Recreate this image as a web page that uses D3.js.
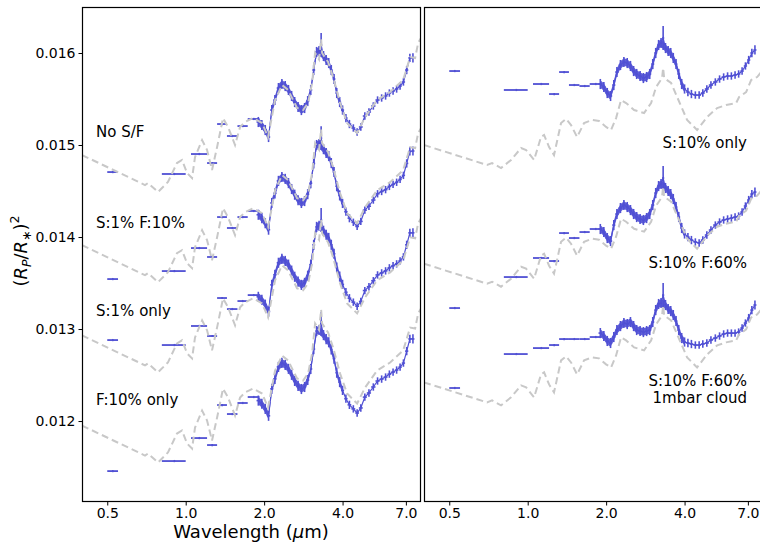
<!DOCTYPE html>
<html>
<head>
<meta charset="utf-8">
<script src="https://cdn.jsdelivr.net/npm/d3@7"></script>
<style>
  body { margin: 0; background: #fff; }
  text { font-family: "DejaVu Sans", sans-serif; fill: #000; }
</style>
</head>
<body>
<svg id="chart" width="760" height="547"></svg>
<script>
// all depths in ppm, i.e. (Rp/R*)^2 * 1e6, before the display offset

// model spectra (grey dashed), left panel and right panel
const leftModelWave = [0.40,0.698,0.717,0.783,0.855,0.926,0.968,1.012,1.058,1.086,1.156,1.208,1.262,1.320,1.391,1.454,1.547,1.617,1.690,1.814,1.964,2.071,2.203,2.344,2.472,2.676,2.822,2.950,3.056,3.138,3.250,3.310,3.338,3.520,3.679,3.914,4.164,4.549,4.882,5.429,6.090,6.831,7.269,7.596,7.800,8.0];
const leftModelDepth = [14891,14565,14587,14489,14598,14804,14837,14696,14641,14869,15054,14946,14728,14978,15293,15196,15000,15196,15250,15293,15239,15087,15489,15652,15598,15402,15380,15456,15674,16000,15930,16150,16000,15902,15739,15456,15239,15130,15304,15489,15576,15706,15956,15946,16109,16163];

const rightModelWave = [0.40,0.698,0.730,0.790,0.863,0.943,0.986,1.058,1.125,1.156,1.208,1.262,1.343,1.404,1.467,1.547,1.646,1.767,1.879,1.999,2.089,2.184,2.282,2.386,2.561,2.797,2.976,3.11,3.28,3.309,3.34,3.551,3.745,4.091,4.469,4.882,5.333,5.775,6.309,6.479,6.892,7.204,7.596,8.0];
const rightModelDepth = [15000,14783,14804,14750,14837,14967,14946,14837,15087,15109,14978,14891,15239,15283,15217,15087,15239,15272,15261,15196,15163,15293,15489,15456,15380,15348,15456,15630,15728,15837,15728,15674,15522,15272,15163,15304,15402,15435,15456,15522,15576,15706,15739,15815];

// photometric bins (wide horizontal bars)
const photWave = [0.525,0.905,1.128,1.264,1.38,1.51,1.655,1.825];
const photHalf = [0.025,0.095,0.08,0.056,0.06,0.07,0.075,0.095];
const photErr = 12;

const photNoSF    = [14706,14685,14902,14804,15228,15098,15206,15283];
const photS1F10   = [14523,14610,14860,14763,15197,15078,15197,15263];
const photS1only  = [14840,14786,14993,14884,15297,15177,15264,15329];
const photF10only = [14396,14505,14755,14679,15114,15016,15136,15201];
const photS10only = [15804,15598,15663,15554,15793,15652,15641,15663];
const photS10F60  = [14518,14855,15062,15029,15333,15279,15344,15377];
const photCloud   = [14939,15308,15373,15406,15471,15471,15471,15493];

// spectroscopic points
const specWave = [1.90,1.96,2.02,2.08,2.14,2.20,2.27,2.34,2.41,2.48,2.55,2.62,2.70,2.78,2.86,2.94,3.02,3.10,3.18,3.25,3.31,3.38,3.46,3.54,3.62,3.71,3.80,3.90,4.00,4.12,4.25,4.40,4.55,4.70,4.87,5.05,5.25,5.45,5.65,5.85,6.05,6.25,6.45,6.65,6.85,7.05,7.25,7.45];
const specErr = [55,55,55,55,55,55,55,55,55,55,55,55,55,55,55,55,55,55,55,55,130,55,55,55,55,55,55,55,50,45,45,40,40,40,40,40,40,40,40,40,40,40,40,40,40,45,45,50];

const specNoSF = [15250,15217,15163,15087,15380,15489,15619,15663,15641,15598,15533,15467,15413,15380,15402,15478,15598,15815,16011,16022,16087,15967,15924,15891,15815,15717,15565,15467,15380,15293,15228,15185,15141,15196,15315,15359,15424,15489,15511,15533,15565,15587,15609,15641,15685,15815,15946,15946];
const specS1F10 = [15222,15185,15130,15060,15350,15455,15590,15632,15612,15566,15502,15440,15380,15350,15371,15446,15565,15780,15980,15990,16055,15935,15893,15860,15784,15686,15532,15432,15345,15255,15185,15140,15095,15150,15272,15315,15382,15450,15475,15495,15530,15552,15575,15606,15650,15780,15910,15915];
const specS1only = [15310,15278,15225,15150,15440,15550,15680,15722,15700,15660,15595,15528,15475,15440,15462,15540,15660,15875,16070,16082,16145,16028,15985,15950,15876,15778,15628,15530,15445,15360,15295,15252,15208,15260,15378,15420,15485,15548,15570,15592,15625,15648,15668,15700,15744,15875,16005,16006];
const specF10only = [15162,15128,15072,14997,15290,15398,15528,15572,15550,15507,15442,15376,15322,15288,15310,15386,15506,15722,15918,15930,15995,15874,15830,15796,15718,15618,15465,15363,15273,15183,15116,15072,15027,15082,15200,15245,15310,15375,15396,15418,15450,15472,15494,15526,15570,15700,15832,15832];
const specS10only = [15663,15630,15565,15533,15652,15793,15869,15902,15891,15859,15804,15772,15750,15728,15739,15772,15880,16000,16087,16109,16163,16054,16022,16000,15946,15880,15772,15663,15609,15576,15554,15543,15543,15565,15609,15652,15685,15717,15739,15750,15750,15761,15772,15804,15859,15924,16000,16033];
const specS10F60 = [15377,15344,15279,15246,15420,15540,15605,15638,15616,15583,15540,15507,15486,15475,15496,15540,15638,15768,15844,15866,15931,15823,15790,15757,15703,15616,15507,15388,15323,15290,15257,15236,15225,15257,15312,15366,15420,15453,15475,15486,15496,15507,15518,15562,15627,15692,15757,15779];
const specCloud = [15536,15504,15450,15428,15493,15569,15612,15645,15634,15656,15612,15569,15558,15547,15558,15569,15656,15786,15852,15863,15949,15841,15797,15775,15732,15667,15569,15482,15439,15428,15417,15406,15406,15417,15428,15461,15482,15504,15526,15536,15536,15536,15547,15591,15645,15699,15786,15841];

// vertical shifts used to stack the spectra
const leftOffsets = [0, -980, -1960, -2940];
const rightOffsets = [0, -1290, -2580];

const xTickValues = [0.5, 1, 2, 4, 7];
const yTickValues = [12000, 13000, 14000, 15000, 16000];

const BLUE = "#5050d4";
const GREY = "#c8c8c8";
const denseEnd = 4.05; // below this the real spectrum is sampled so finely it reads as a band

const svg = d3.select("#chart");
const y = d3.scaleLinear().domain([11120, 16500]).range([502, 7]);

const panels = [
  {
    x0: 82, x1: 421, modelWave: leftModelWave, modelDepth: leftModelDepth,
    spectra: [
      {label: ["No S/F"], offset: leftOffsets[0], phot: photNoSF, spec: specNoSF},
      {label: ["S:1% F:10%"], offset: leftOffsets[1], phot: photS1F10, spec: specS1F10},
      {label: ["S:1% only"], offset: leftOffsets[2], phot: photS1only, spec: specS1only},
      {label: ["F:10% only"], offset: leftOffsets[3], phot: photF10only, spec: specF10only}
    ],
    labelPos: [[96,137],[96,228],[96,316],[96,405]], anchor: "start"
  },
  {
    x0: 424, x1: 763, modelWave: rightModelWave, modelDepth: rightModelDepth,
    spectra: [
      {label: ["S:10% only"], offset: rightOffsets[0], phot: photS10only, spec: specS10only},
      {label: ["S:10% F:60%"], offset: rightOffsets[1], phot: photS10F60, spec: specS10F60},
      {label: ["S:10% F:60%", "1mbar cloud"], offset: rightOffsets[2], phot: photCloud, spec: specCloud}
    ],
    labelPos: [[747,148],[747,268],[747,386]], anchor: "end"
  }
];

// half width of each spectroscopic bin from its neighbours
const specHalf = specWave.map((w, i) => {
  const lo = i > 0 ? specWave[i - 1] : w - (specWave[1] - specWave[0]);
  const hi = i < specWave.length - 1 ? specWave[i + 1] : w + (w - specWave[i - 1]);
  return (hi - lo) / 4;
});

panels.forEach((p, pi) => {
  const x = d3.scaleLog().domain([0.4, 8]).range([p.x0, p.x1]);
  const clipId = "clip" + pi;
  svg.append("clipPath").attr("id", clipId)
    .append("rect").attr("x", p.x0).attr("y", 7).attr("width", p.x1 - p.x0).attr("height", 495);

  const g = svg.append("g").attr("clip-path", "url(#" + clipId + ")");

  p.spectra.forEach(s => {
    const off = s.offset;
    const sg = g.append("g");

    const pts = specWave.map((w, i) => ({w: w, v: s.spec[i] + off, e: specErr[i], h: specHalf[i]}));
    const dense = pts.filter(d => d.w <= denseEnd && d.e < 100);

    // dense part as a filled error band
    sg.append("path")
      .datum(dense)
      .attr("fill", BLUE)
      .attr("fill-opacity", 0.9)
      .attr("d", d3.area().x(d => x(d.w)).y0(d => y(d.v - d.e * 0.75)).y1(d => y(d.v + d.e * 0.75)));
    sg.append("path")
      .datum(pts)
      .attr("fill", "none")
      .attr("stroke", BLUE)
      .attr("stroke-width", 1.2)
      .attr("d", d3.line().x(d => x(d.w)).y(d => y(d.v)));
    sg.selectAll(".ev").data(pts).enter().append("line")
      .attr("x1", d => x(d.w)).attr("x2", d => x(d.w))
      .attr("y1", d => y(d.v - d.e)).attr("y2", d => y(d.v + d.e))
      .attr("stroke", BLUE).attr("stroke-width", 1.6);
    sg.selectAll(".eh").data(pts).enter().append("line")
      .attr("x1", d => x(d.w - d.h)).attr("x2", d => x(d.w + d.h))
      .attr("y1", d => y(d.v)).attr("y2", d => y(d.v))
      .attr("stroke", BLUE).attr("stroke-width", 1.6);

    // photometric bins
    const ph = photWave.map((w, i) => ({w: w, h: photHalf[i], v: s.phot[i] + off}));
    sg.selectAll(".ph").data(ph).enter().append("line")
      .attr("x1", d => x(d.w - d.h)).attr("x2", d => x(d.w + d.h))
      .attr("y1", d => y(d.v)).attr("y2", d => y(d.v))
      .attr("stroke", BLUE).attr("stroke-width", 1.8);
    sg.selectAll(".pv").data(ph).enter().append("line")
      .attr("x1", d => x(d.w)).attr("x2", d => x(d.w))
      .attr("y1", d => y(d.v - photErr)).attr("y2", d => y(d.v + photErr))
      .attr("stroke", BLUE).attr("stroke-width", 1.6);

    // model, drawn on top
    const model = p.modelWave.map((w, i) => ({w: w, v: p.modelDepth[i] + off}));
    sg.append("path")
      .datum(model)
      .attr("fill", "none")
      .attr("stroke", GREY)
      .attr("stroke-width", 2)
      .attr("stroke-dasharray", "7,4")
      .attr("d", d3.line().x(d => x(d.w)).y(d => y(d.v)));
  });

  // labels
  p.spectra.forEach((s, i) => {
    const t = svg.append("text")
      .attr("x", p.labelPos[i][0]).attr("y", p.labelPos[i][1])
      .attr("text-anchor", p.anchor)
      .style("font-size", "15px");
    s.label.forEach((line, j) => {
      t.append("tspan").attr("x", p.labelPos[i][0]).attr("dy", j === 0 ? 0 : 17).text(line);
    });
  });

  // x axis
  const xa = svg.append("g").attr("transform", "translate(0,502)")
    .call(d3.axisBottom(x).tickValues(xTickValues).tickFormat(d3.format(".1f")).tickSize(3.5).tickPadding(3));
  xa.select(".domain").remove();
  xa.selectAll("text").style("font-size", "14px").style("font-family", "DejaVu Sans");

  // frame
  svg.append("rect")
    .attr("x", p.x0 + 0.5).attr("y", 7.5)
    .attr("width", p.x1 - p.x0 - 1).attr("height", 494)
    .attr("fill", "none").attr("stroke", "#000").attr("stroke-width", 1.2);
});

// y axis on the left panel only
const ya = svg.append("g").attr("transform", "translate(82,0)")
  .call(d3.axisLeft(y).tickValues(yTickValues).tickFormat(d => (d / 1e6).toFixed(3)).tickSize(3.5).tickPadding(3));
ya.select(".domain").remove();
ya.selectAll("text").style("font-size", "14px").style("font-family", "DejaVu Sans");

// axis titles
const xl = svg.append("text")
  .attr("x", 251).attr("y", 538)
  .attr("text-anchor", "middle")
  .style("font-size", "18px");
xl.append("tspan").text("Wavelength (");
xl.append("tspan").style("font-style", "italic").text("\u03bc");
xl.append("tspan").text("m)");

const yl = svg.append("text")
  .attr("transform", "translate(27,251) rotate(-90)")
  .attr("text-anchor", "middle")
  .style("font-size", "18px");
yl.append("tspan").text("(");
yl.append("tspan").style("font-style", "italic").text("R");
yl.append("tspan").style("font-style", "italic").style("font-size", "12.5px").attr("dy", 4).text("P");
yl.append("tspan").attr("dy", -4).text("/");
yl.append("tspan").style("font-style", "italic").text("R");
yl.append("tspan").style("font-size", "12.5px").attr("dy", 4).text("\u2217");
yl.append("tspan").attr("dy", -4).text(")");
yl.append("tspan").style("font-size", "12.5px").attr("dy", -8).text("2");
</script>
</body>
</html>
